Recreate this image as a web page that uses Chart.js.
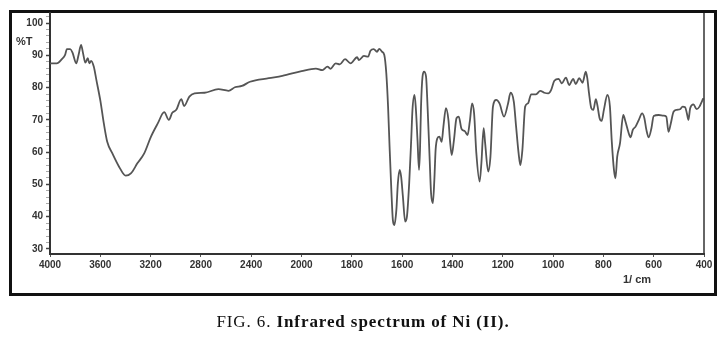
<!DOCTYPE html>
<html>
<head>
<meta charset="utf-8">
<script src="https://cdn.jsdelivr.net/npm/chart.js@4.4.1/dist/chart.umd.min.js"></script>
<style>
  body { margin: 0; width: 726px; height: 362px; background: #fff; position: relative; overflow: hidden; }
  #frame { position: absolute; left: 9px; top: 10px; width: 702px; height: 280px; border: 3px solid #111; }
  #wrap { position: absolute; left: 0; top: 0; width: 726px; height: 362px; }
  .lbl { position: absolute; font-family: "Liberation Sans", Arial, sans-serif; font-weight: bold; color: #333; }
  #caption { position: absolute; left: 0; top: 312px; width: 726px; text-align: center;
    font-family: "Liberation Serif", "Times New Roman", serif; font-size: 17px; letter-spacing: 0.9px;
    line-height: 20px; color: #111; }
</style>
</head>
<body>
<div id="frame"></div>
<div id="wrap"><canvas id="irChart" width="726" height="362"></canvas></div>
<div class="lbl" style="left:16px; top:35px; font-size:11px;">%T</div>
<div class="lbl" style="left:623px; top:273px; font-size:11px;">1/ cm</div>
<div id="caption">FIG. 6. <b>Infrared spectrum of Ni (II).</b></div>
<script>
// wavenumber (1/cm) and %T
const wavenumbers = [
  4000, 3946, 3906, 3880, 3866, 3839, 3821, 3791, 3773, 3753,
  3737, 3719, 3700, 3687, 3673, 3652, 3631, 3598, 3572, 3545,
  3504, 3451, 3398, 3357, 3304, 3251, 3197, 3143, 3092, 3055,
  3028, 2996, 2956, 2934, 2892, 2851, 2771, 2661, 2581, 2530,
  2474, 2410, 2260, 2153, 2000, 1943, 1917, 1897, 1885, 1864,
  1848, 1827, 1805, 1779, 1772, 1752, 1735, 1726, 1713, 1700,
  1691, 1680, 1671, 1663, 1656, 1650, 1643, 1637, 1631, 1623,
  1617, 1610, 1604, 1597, 1588, 1581, 1572, 1564, 1559, 1551,
  1546, 1539, 1533, 1529, 1525, 1519, 1513, 1505, 1499, 1491,
  1485, 1478, 1472, 1467, 1460, 1452, 1443, 1436, 1426, 1416,
  1410, 1403, 1394, 1384, 1375, 1364, 1351, 1340, 1331, 1322,
  1314, 1305, 1292, 1285, 1276, 1270, 1258, 1249, 1239, 1226,
  1213, 1195, 1179, 1169, 1156, 1147, 1137, 1130, 1122, 1111,
  1100, 1087, 1068, 1051, 1035, 1019, 1008, 995, 978, 965,
  949, 936, 920, 910, 896, 883, 870, 864, 857, 848,
  840, 830, 824, 815, 807, 798, 784, 774, 767, 758,
  752, 745, 734, 721, 712, 701, 692, 683, 672, 659,
  646, 637, 629, 620, 609, 600, 580, 561, 550, 541,
  532, 521, 508, 495, 485, 475, 468, 462, 455, 442,
  429, 418, 409, 403
];
const transmittance = [
  87.5, 87.5, 88.8, 90.1, 91.9, 91.9, 90.8, 87.5, 90.1, 93.2,
  90.6, 87.7, 89.1, 87.5, 88.3, 86.5, 82.3, 75.6, 68.9, 63.2,
  59.6, 55.5, 52.7, 53.4, 56.6, 59.6, 64.8, 68.9, 72.4, 70.0,
  72.2, 73.1, 76.4, 74.3, 77.2, 78.2, 78.4, 79.5, 79.0, 80.1,
  80.5, 81.8, 82.9, 83.6, 85.1, 85.9, 85.4, 86.5, 85.8, 87.5,
  87.2, 88.8, 87.5, 89.4, 88.5, 89.8, 89.6, 91.4, 91.9, 91.1,
  92.0, 91.1, 90.1, 84.4, 74.1, 61.7, 48.3, 39.0, 37.4, 42.1,
  50.4, 54.5, 52.4, 46.2, 38.5, 40.0, 50.4, 63.8, 73.1, 77.7,
  74.1, 63.8, 54.5, 60.7, 74.1, 83.4, 84.9, 83.4, 74.1, 58.6,
  47.2, 44.2, 51.4, 60.7, 64.3, 64.8, 63.2, 67.9, 73.6, 70.0,
  63.8, 59.1, 63.8, 70.5, 71.0, 67.2, 66.5, 65.3, 69.5, 75.1,
  72.0, 59.6, 50.9, 56.6, 67.4, 62.7, 54.0, 58.6, 74.1, 76.2,
  75.1, 71.0, 75.1, 78.4, 75.6, 67.9, 59.6, 56.0, 60.7, 74.1,
  75.1, 77.9, 77.9, 79.0, 78.4, 78.2, 79.2, 82.1, 82.7, 81.3,
  83.1, 80.8, 82.7, 81.1, 82.9, 81.5, 84.9, 82.9, 78.2, 73.6,
  73.1, 76.4, 74.6, 70.5, 69.7, 73.1, 77.7, 74.1, 63.8, 54.5,
  51.9, 58.6, 62.7, 71.5, 69.4, 66.3, 64.6, 66.9, 67.9, 70.0,
  72.0, 70.5, 66.9, 64.6, 67.4, 71.2, 71.5, 71.3, 71.0, 66.3,
  68.9, 72.5, 73.1, 73.3, 74.1, 73.9, 72.0, 70.0, 73.6, 74.8,
  73.3, 74.1, 75.6, 76.7
];
const xTickLabels = [4000, 3600, 3200, 2800, 2400, 2000, 1800, 1600, 1400, 1200, 1000, 800, 600, 400];
const yTickLabels = [30, 40, 50, 60, 70, 80, 90, 100];

// the instrument axis changes scale at 2000: 400 per division above, 200 per division below
function toAxis(w) {
  return w >= 2000 ? (4000 - w) / 400 : 5 + (2000 - w) / 200;
}

const points = wavenumbers.map((w, i) => ({ x: toAxis(w), y: transmittance[i] }));

const rightEdge = {
  id: "rightEdge",
  afterDraw(chart) {
    const { ctx, chartArea } = chart;
    ctx.save();
    ctx.strokeStyle = "#333";
    ctx.lineWidth = 1.5;
    ctx.beginPath();
    ctx.moveTo(chartArea.right, chartArea.top);
    ctx.lineTo(chartArea.right, chartArea.bottom);
    ctx.stroke();
    ctx.restore();
  }
};

const tickFont = { family: "'Liberation Sans', Arial, sans-serif", size: 10, weight: "bold" };

new Chart(document.getElementById("irChart").getContext("2d"), {
  type: "line",
  data: {
    datasets: [{
      label: "Ni (II)",
      data: points,
      borderColor: "#555",
      borderWidth: 1.8,
      pointRadius: 0,
      cubicInterpolationMode: "monotone",
      fill: false
    }]
  },
  options: {
    responsive: false,
    animation: false,
    layout: { padding: { left: 0, top: 13, right: 22, bottom: 84 } },
    plugins: { legend: { display: false }, tooltip: { enabled: false } },
    scales: {
      x: {
        type: "linear",
        min: 0,
        max: xTickLabels.length - 1,
        afterFit: (scale) => { scale.height = 24; },
        border: { display: true, color: "#333", width: 2 },
        grid: { drawOnChartArea: false, drawTicks: true, tickLength: 3, tickColor: "#555" },
        ticks: {
          stepSize: 1,
          autoSkip: false,
          maxRotation: 0,
          padding: 2,
          color: "#333",
          font: tickFont,
          callback: (v) => xTickLabels[Math.round(v)]
        }
      },
      y: {
        min: 28.45,
        max: 103.1,
        afterFit: (scale) => { scale.width = 50; },
        border: { display: true, color: "#333", width: 2 },
        grid: {
          drawOnChartArea: false,
          drawTicks: true,
          tickLength: 4,
          tickColor: (ctx) => (ctx.tick && Math.round(ctx.tick.value) % 10 === 0 ? "#444" : "#aaa"),
          tickWidth: (ctx) => (ctx.tick && Math.round(ctx.tick.value) % 10 === 0 ? 1.5 : 1)
        },
        ticks: {
          stepSize: 2,
          includeBounds: false,
          autoSkip: false,
          padding: 3,
          color: "#333",
          font: tickFont,
          callback: (v) => (yTickLabels.includes(Math.round(v)) ? Math.round(v) : "")
        }
      }
    }
  },
  plugins: [rightEdge]
});
</script>
</body>
</html>
